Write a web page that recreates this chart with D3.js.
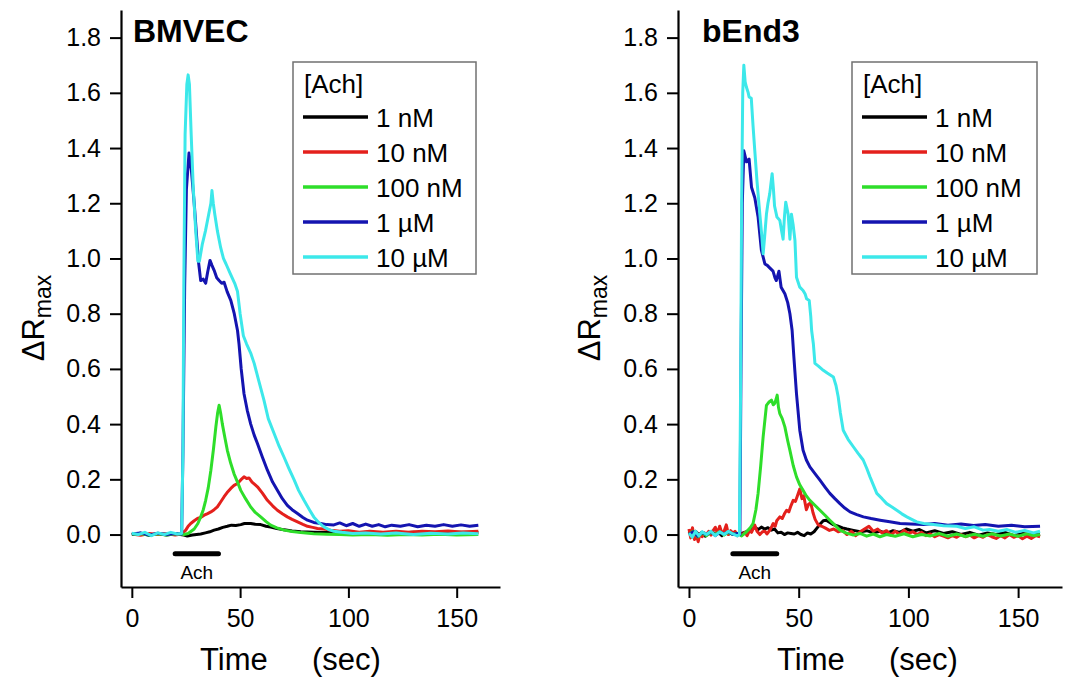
<!DOCTYPE html>
<html>
<head>
<meta charset="utf-8">
<script src="https://cdn.jsdelivr.net/npm/d3@7"></script>
<style>
  body { margin: 0; background: #fff; }
  text { font-family: "Liberation Sans", Arial, sans-serif; fill: #000; }
</style>
</head>
<body>
<div id="vis"></div>
<script>
// ---- data: [time (s), dR_max] ----
const concentrations = ["1 nM", "10 nM", "100 nM", "1 \u00b5M", "10 \u00b5M"];
const lineColors = ["#000000", "#e4201c", "#2ede2a", "#1414b0", "#3ce8ea"];

const yMajorTicks = [0, 0.2, 0.4, 0.6, 0.8, 1.0, 1.2, 1.4, 1.6, 1.8];
const yMinorTicks = [-0.1, 0.1, 0.3, 0.5, 0.7, 0.9, 1.1, 1.3, 1.5, 1.7, 1.9];
const xMajorTicks = [0, 50, 100, 150];
const xMinorTicks = [10, 20, 30, 40, 60, 70, 80, 90, 110, 120, 130, 140, 160, 170];
const achPulse = [20, 40];

// BMVEC
const bmvec1nM = [[0,0.0],[4,0.005],[8,-0.003],[12,0.004],[16,-0.002],[20,0.003],[24,-0.002],[25.6,-0.005],[28,-0.002],[31.8,0.002],[34,0.006],[36,0.01],[38,0.016],[40,0.02],[42,0.026],[44.1,0.03],[46,0.034],[48,0.033],[50.3,0.036],[52,0.04],[54.9,0.04],[57,0.037],[59.5,0.036],[62,0.03],[64.1,0.027],[67,0.022],[70.3,0.017],[74,0.013],[78,0.01],[84,0.008],[90,0.007],[100,0.006],[110,0.008],[120,0.005],[130,0.008],[140,0.006],[150,0.008],[160,0.007]];
const bmvec10nM = [[0,0.002],[4,-0.003],[8,0.004],[12,0.0],[16,0.004],[20,-0.002],[23,0.002],[24.9,0.016],[26,0.03],[27.2,0.04],[28.8,0.05],[30.3,0.058],[31.8,0.062],[33.4,0.07],[35,0.076],[36.5,0.082],[38,0.09],[39.5,0.10],[41,0.118],[42.6,0.137],[44,0.152],[45.7,0.167],[47.2,0.178],[48.8,0.185],[50.3,0.198],[51.8,0.209],[53,0.203],[54.1,0.205],[55.5,0.19],[57,0.18],[58,0.173],[60.3,0.15],[62.6,0.124],[65,0.104],[67.2,0.088],[69.5,0.075],[71.8,0.064],[74,0.055],[76.5,0.046],[79,0.037],[81.1,0.03],[83.5,0.026],[85.7,0.022],[88.5,0.02],[91.8,0.016],[96,0.012],[100,0.014],[105,0.008],[110,0.012],[116,0.008],[122,0.012],[128,0.008],[134,0.012],[140,0.01],[146,0.013],[152,0.009],[160,0.012]];
const bmvec100nM = [[0,0.0],[4,0.004],[8,-0.003],[12,0.003],[16,-0.002],[20,0.003],[24,0.0],[26,0.004],[28.8,0.02],[30.5,0.04],[31.8,0.064],[33,0.09],[34.1,0.124],[35.3,0.17],[36.5,0.233],[37.7,0.31],[38.8,0.39],[39.6,0.44],[40.3,0.468],[41,0.44],[41.8,0.40],[43,0.35],[44.1,0.305],[45.6,0.26],[47.2,0.22],[48.8,0.19],[50.3,0.16],[52.5,0.13],[54.9,0.10],[57,0.08],[59.5,0.064],[62,0.047],[64.1,0.034],[67,0.024],[70.3,0.016],[74,0.011],[78,0.007],[84,0.003],[90,0.001],[96,0.0],[102,-0.002],[110,0.0],[118,-0.003],[126,0.0],[134,-0.002],[142,0.001],[150,-0.002],[160,0.0]];
const bmvec1uM = [[0,0.002],[4,0.006],[8,-0.002],[12,0.005],[16,0.0],[20,0.004],[23,0.002],[23.6,0.3],[24.4,0.9],[25.2,1.25],[26.4,1.382],[27.5,1.32],[28.8,1.2],[30,1.07],[30.8,0.987],[31.8,0.92],[33,0.925],[34.1,0.91],[35,0.95],[36.1,0.993],[37,0.975],[38,0.957],[39.2,0.93],[40.3,0.92],[41.5,0.91],[42.6,0.914],[44,0.88],[45.7,0.848],[47.3,0.8],[48.8,0.739],[49.5,0.69],[50.5,0.6],[51.8,0.51],[53.3,0.45],[54.9,0.40],[56.5,0.36],[58,0.33],[60.3,0.28],[62.6,0.233],[65,0.19],[67.2,0.16],[69.5,0.13],[71.8,0.106],[74,0.09],[76.5,0.076],[79,0.062],[81.1,0.052],[84,0.044],[87.2,0.04],[90,0.036],[93.3,0.035],[96,0.042],[99,0.032],[102,0.04],[105,0.03],[108,0.038],[111,0.03],[114,0.036],[117,0.028],[120,0.034],[124,0.03],[128,0.036],[132,0.028],[136,0.034],[140,0.03],[144,0.036],[148,0.03],[152,0.035],[156,0.03],[160,0.034]];
const bmvec10uM = [[0,0.005],[3,0.0],[6,0.008],[9,-0.004],[12,0.006],[15,0.0],[18,0.008],[21,0.002],[23,0.004],[23.6,0.3],[24,0.9],[24.6,1.45],[25.4,1.63],[26,1.665],[26.6,1.63],[27.4,1.45],[28.4,1.25],[29.5,1.10],[30.5,0.99],[31.2,0.99],[32.5,1.05],[34,1.1],[35.5,1.16],[36.5,1.2],[37,1.246],[37.6,1.2],[38.3,1.16],[39.5,1.1],[41,1.04],[42.3,1.0],[43.5,0.98],[45.5,0.944],[47.5,0.91],[48.8,0.88],[50,0.80],[51.5,0.72],[53,0.69],[55,0.655],[56.5,0.62],[58.5,0.56],[61,0.487],[63,0.42],[65.7,0.366],[68,0.32],[70.3,0.28],[72.5,0.24],[75,0.197],[77,0.16],[79.5,0.124],[82,0.09],[84,0.064],[86.5,0.042],[88.7,0.028],[91,0.018],[93.3,0.012],[97,0.008],[102,0.004],[108,0.006],[115,0.002],[122,0.006],[130,0.0],[138,0.005],[146,0.002],[153,0.006],[160,0.003]];

// bEnd3
const bend1nM = [[0,0.01],[1.5,-0.006],[3,0.012],[4.5,0.0],[6,0.008],[7.5,-0.006],[9,0.006],[10.5,0.012],[12,0.0],[13.5,0.008],[15,-0.004],[16.5,0.01],[18,0.002],[20,0.008],[22,0.0],[24,0.004],[26,0.01],[28,0.018],[30,0.026],[31.5,0.018],[33,0.027],[34.5,0.02],[36,0.025],[37.5,0.016],[39,0.02],[40.5,0.006],[42,0.008],[43.5,0.0],[45,0.006],[46.5,0.004],[48,0.002],[49.5,0.008],[51,0.0],[52.5,-0.004],[54,0.006],[55.5,0.002],[57,0.01],[58.5,0.025],[60,0.04],[61.2,0.05],[62.5,0.052],[64,0.045],[65.8,0.036],[68,0.03],[70,0.024],[72,0.02],[75,0.015],[78,0.01],[81,0.014],[84,0.006],[87,0.012],[90,0.004],[93,0.014],[96,0.008],[99,0.02],[102,0.012],[105,0.018],[108,0.006],[112,0.014],[116,0.004],[120,0.01],[124,0.0],[128,0.008],[132,-0.002],[136,0.006],[140,0.0],[144,0.008],[148,-0.004],[152,0.004],[156,-0.002],[160,0.002]];
const bend10nM = [[0,0.02],[0.8,-0.012],[1.6,0.025],[2.5,-0.018],[3.3,0.0],[4.2,-0.026],[5,0.004],[6,-0.008],[7,0.006],[8,0.0],[9,0.012],[10,-0.002],[11,0.014],[12,0.026],[13,0.004],[14,0.03],[15,0.006],[16,0.012],[17,0.035],[18,0.0],[19,0.014],[20,0.004],[21,0.012],[22,-0.004],[23,0.006],[24.6,0.0],[25.5,0.008],[26.5,-0.004],[27.7,0.016],[28.5,0.008],[30,0.034],[31,0.012],[32.3,0.0],[33.5,0.01],[34.6,0.012],[35.5,0.002],[36.9,0.016],[37.8,0.03],[38.4,0.04],[39.3,0.03],[40,0.05],[41.4,0.064],[42.5,0.058],[43.5,0.075],[44.5,0.088],[45.5,0.082],[46.5,0.105],[47.5,0.124],[48.5,0.12],[49.4,0.14],[50.5,0.165],[51.5,0.13],[52.3,0.14],[53.5,0.09],[54.5,0.11],[55.5,0.115],[56.5,0.08],[57.5,0.055],[58.9,0.035],[60.5,0.03],[62,0.024],[64,0.015],[66,0.02],[68,0.01],[70,0.015],[72,0.0],[74,0.012],[76,-0.004],[78,0.01],[80,0.02],[82,0.03],[84,0.012],[86,0.02],[88,0.006],[90,0.014],[92,-0.002],[94,0.012],[96,0.0],[98,0.016],[100,0.004],[102,0.01],[104,0.0],[106,0.008],[108,-0.004],[110,0.002],[112,-0.008],[114,0.0],[116,-0.006],[118,-0.012],[120,-0.004],[122,-0.01],[124,0.0],[126,-0.008],[128,-0.002],[130,-0.012],[132,-0.004],[134,-0.01],[136,0.0],[138,-0.008],[140,-0.014],[142,-0.004],[144,-0.012],[146,0.0],[148,-0.01],[150,-0.004],[152,-0.015],[154,-0.006],[156,-0.014],[158,-0.004],[160,-0.008]];
const bend100nM = [[0,0.0],[2,0.012],[4,-0.008],[6,0.006],[8,-0.004],[10,0.008],[12,0.0],[14,0.01],[16,-0.002],[18,0.008],[20,0.0],[22,0.005],[24,-0.005],[26.2,0.01],[28,0.025],[29.2,0.04],[30.5,0.09],[31.5,0.149],[32.7,0.25],[33.8,0.354],[35.3,0.468],[36.5,0.48],[37.6,0.487],[38.4,0.47],[39.1,0.475],[39.7,0.49],[40.2,0.505],[40.8,0.46],[41.4,0.438],[42.5,0.42],[43.7,0.39],[45,0.34],[46,0.305],[47.5,0.25],[49,0.209],[50.5,0.18],[52,0.16],[53.5,0.14],[55.1,0.124],[57.5,0.105],[59.7,0.088],[62,0.07],[64.2,0.052],[66.5,0.034],[68.8,0.016],[71.5,0.006],[74.9,-0.002],[78,0.004],[81,-0.006],[84,0.002],[87,-0.008],[90,0.0],[94,-0.006],[98,0.003],[102,-0.008],[106,0.0],[110,-0.005],[114,0.004],[118,-0.006],[122,0.002],[126,-0.007],[130,0.001],[134,-0.006],[138,0.003],[142,-0.005],[146,0.002],[150,-0.006],[154,0.003],[157,-0.004],[160,0.0]];
const bend1uM = [[0,0.0],[2,0.01],[4,-0.006],[6,0.008],[8,0.0],[10,0.01],[12,-0.004],[14,0.008],[16,0.002],[18,0.01],[20,0.0],[22,0.004],[23.2,0.0],[23.7,0.6],[24.3,1.2],[25,1.39],[25.6,1.37],[26.2,1.35],[27.4,1.36],[28.5,1.258],[30,1.22],[31.5,1.15],[33,1.03],[34.6,0.98],[35.7,0.975],[36.8,0.966],[38.3,0.954],[39.2,0.93],[39.8,0.92],[41,0.954],[42,0.896],[43.7,0.872],[45,0.84],[46,0.80],[47,0.74],[47.8,0.644],[49,0.51],[50.5,0.378],[52,0.305],[53.5,0.27],[55.1,0.245],[57.5,0.22],[59.7,0.197],[62,0.172],[64.2,0.149],[66.5,0.13],[68.8,0.112],[71,0.096],[73.4,0.082],[76.5,0.072],[79.5,0.064],[83,0.058],[87.1,0.052],[91.5,0.046],[96.2,0.04],[101,0.038],[106.9,0.036],[112,0.04],[118,0.034],[124,0.038],[129.7,0.033],[135,0.036],[141,0.03],[147,0.034],[153,0.028],[160,0.03]];
const bend10uM = [[0,0.005],[1.5,-0.01],[3,0.012],[4.5,-0.005],[6,0.01],[8,0.0],[10,0.012],[12,-0.004],[14,0.01],[16,0.0],[18,0.012],[20,0.002],[22,-0.005],[23,0.0],[23.5,0.5],[24,1.2],[24.5,1.6],[25,1.70],[25.6,1.64],[26.2,1.62],[27,1.60],[27.4,1.585],[28.4,1.58],[29.2,1.48],[30,1.39],[31,1.28],[32.3,1.16],[33.2,1.08],[33.8,1.017],[34.5,1.08],[35.3,1.16],[36,1.2],[36.8,1.234],[37.9,1.307],[38.5,1.25],[39,1.19],[40.1,1.15],[41.4,1.138],[42.2,1.1],[42.9,1.07],[43.5,1.15],[44.1,1.204],[45.2,1.16],[46,1.07],[46.7,1.16],[47.5,1.12],[48.3,1.065],[49,0.932],[50.5,0.896],[52,0.884],[53,0.87],[53.6,0.854],[54.8,0.848],[55.5,0.79],[55.9,0.739],[56.7,0.69],[57.4,0.62],[59,0.61],[61.2,0.595],[63,0.585],[65.8,0.571],[67,0.54],[68,0.499],[69,0.44],[70.3,0.378],[72.5,0.345],[74.9,0.318],[77,0.295],[79.4,0.27],[81,0.24],[82.5,0.209],[84,0.18],[85.6,0.149],[88,0.13],[90.1,0.112],[92.5,0.1],[94.7,0.088],[97,0.075],[99.3,0.064],[101.5,0.055],[103.8,0.046],[107,0.04],[111.4,0.036],[116,0.032],[122,0.03],[126,0.022],[130,0.028],[134,0.016],[137,0.018],[141,0.012],[145,0.018],[149,0.008],[153,0.015],[157,0.006],[160,0.012]];

// ---- layout ----
const width = 1076, height = 686;
const font = '"Liberation Sans", Arial, sans-serif';

const panels = [
  { title: "BMVEC", left: 121, right: 500, titleX: 133, series: [bmvec1nM, bmvec10nM, bmvec100nM, bmvec1uM, bmvec10uM],
    legend: { x: 293, y: 62, w: 183, h: 212 }, timeX: 200, yLabelX: 44 },
  { title: "bEnd3", left: 678, right: 1062, titleX: 702, series: [bend1nM, bend10nM, bend100nM, bend1uM, bend10uM],
    legend: { x: 852, y: 62, w: 185, h: 212 }, timeX: 777, yLabelX: 600 }
];

const svg = d3.select('#vis')
  .append('svg')
  .attr('width', width)
  .attr('height', height)
  .style('background', '#fff');

const y = d3.scaleLinear([-0.19, 1.9], [587, 10]);

function drawPanel(p) {
  const x = d3.scaleLinear([-5, 170], [p.left, p.right]);
  const g = svg.append('g');

  // traces
  const line = d3.line().x(d => x(d[0])).y(d => y(d[1]));
  p.series.forEach((s, i) => {
    g.append('path')
      .attr('d', line(s))
      .attr('fill', 'none')
      .attr('stroke', lineColors[i])
      .attr('stroke-width', 3)
      .attr('stroke-linejoin', 'round');
  });

  // axes
  const yAx = g.append('g').attr('transform', `translate(${p.left},0)`);
  yAx.call(d3.axisLeft(y).tickValues(yMinorTicks).tickSize(6).tickSizeOuter(0).tickFormat(''));
  yAx.call(d3.axisLeft(y).tickValues(yMajorTicks).tickSize(11).tickSizeOuter(0).tickPadding(9).tickFormat(d3.format('.1f')));

  const xAx = g.append('g').attr('transform', `translate(0,${y(-0.19)})`);
  xAx.call(d3.axisBottom(x).tickValues(xMinorTicks).tickSize(6).tickSizeOuter(0).tickFormat(''));
  xAx.call(d3.axisBottom(x).tickValues(xMajorTicks).tickSize(11).tickSizeOuter(0).tickPadding(11).tickFormat(d3.format('d')));

  g.selectAll('.domain').attr('stroke', '#000').attr('stroke-width', 2.2);
  g.selectAll('.tick line').attr('stroke', '#000').attr('stroke-width', 2);
  g.selectAll('.tick text').attr('font-size', 25).attr('font-family', font).attr('fill', '#000');

  // title
  g.append('text')
    .attr('x', p.titleX).attr('y', 42)
    .attr('font-size', 32).attr('font-weight', 'bold')
    .text(p.title);

  // stimulus bar
  g.append('line')
    .attr('x1', x(achPulse[0])).attr('x2', x(achPulse[1]))
    .attr('y1', y(-0.07)).attr('y2', y(-0.07))
    .attr('stroke', '#000').attr('stroke-width', 5).attr('stroke-linecap', 'round');
  g.append('text')
    .attr('x', x(30)).attr('y', 579)
    .attr('font-size', 19).attr('text-anchor', 'middle')
    .text('Ach');

  // axis titles
  g.append('text').attr('x', p.timeX).attr('y', 670).attr('font-size', 31).text('Time');
  g.append('text').attr('x', p.timeX + 112).attr('y', 670).attr('font-size', 31).text('(sec)');

  const yl = g.append('text')
    .attr('transform', `translate(${p.yLabelX},318) rotate(-90)`)
    .attr('text-anchor', 'middle')
    .attr('font-size', 31);
  yl.append('tspan').text('\u0394R');
  yl.append('tspan').attr('font-size', 23).attr('dy', 7).text('max');

  // legend
  const L = p.legend;
  const lg = g.append('g').attr('transform', `translate(${L.x},${L.y})`);
  lg.append('rect')
    .attr('width', L.w).attr('height', L.h)
    .attr('fill', '#fff').attr('stroke', '#707070').attr('stroke-width', 1.5);
  lg.append('text').attr('x', 11).attr('y', 31).attr('font-size', 26).text('[Ach]');
  concentrations.forEach((c, i) => {
    const cy = 55 + i * 35;
    lg.append('line')
      .attr('x1', 10).attr('x2', 75).attr('y1', cy).attr('y2', cy)
      .attr('stroke', lineColors[i]).attr('stroke-width', 3.5);
    lg.append('text').attr('x', 83).attr('y', cy + 9.5).attr('font-size', 26).text(c);
  });
}

panels.forEach(drawPanel);
</script>
</body>
</html>
